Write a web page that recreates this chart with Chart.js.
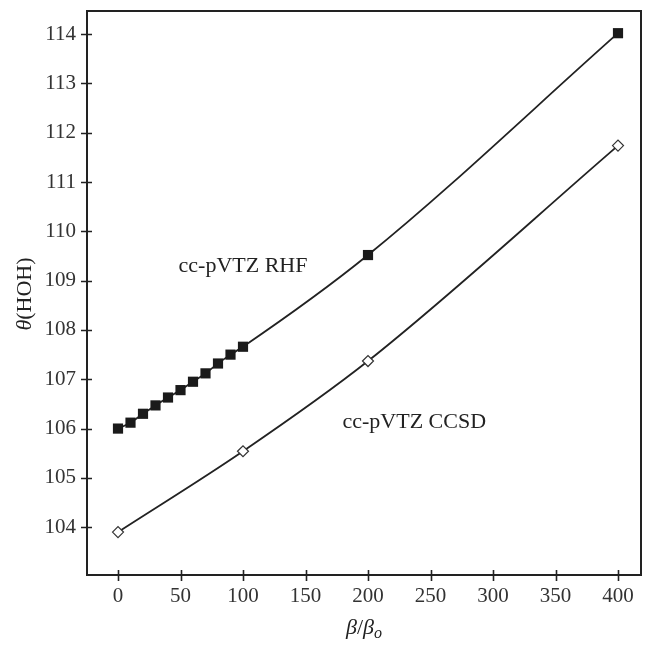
<!DOCTYPE html>
<html>
<head>
<meta charset="utf-8">
<script src="https://cdn.jsdelivr.net/npm/chart.js@4/dist/chart.umd.min.js"></script>
<style>
html,body{margin:0;padding:0;background:#fff;}
#wrap{width:651px;height:645px;}
</style>
</head>
<body>
<div id="wrap"><canvas id="c" width="651" height="645"></canvas></div>
<script>
const xTicks = [0, 50, 100, 150, 200, 250, 300, 350, 400];
const yTicks = [104, 105, 106, 107, 108, 109, 110, 111, 112, 113, 114];
const rhfX = [0, 10, 20, 30, 40, 50, 60, 70, 80, 90, 100, 200, 400];
const rhfY = [106.0, 106.12, 106.30, 106.47, 106.63, 106.78, 106.95, 107.12, 107.32, 107.50, 107.66, 109.52, 114.02];
const ccsdX = [0, 100, 200, 400];
const ccsdY = [103.9, 105.54, 107.37, 111.74];
const seriesLabels = ['cc-pVTZ RHF', 'cc-pVTZ CCSD'];

const INK = '#222222';
const SERIF = '"Liberation Serif", "DejaVu Serif", serif';

const framePlugin = {
  id: 'frame',
  afterDatasetsDraw(chart) {
    const {ctx, chartArea: a, scales: {x, y}} = chart;
    ctx.save();
    ctx.strokeStyle = INK;
    ctx.lineWidth = 2;
    ctx.strokeRect(a.left, a.top, a.right - a.left, a.bottom - a.top);
    ctx.lineWidth = 1.6;
    ctx.beginPath();
    xTicks.forEach(v => {
      const px = Math.round(x.getPixelForValue(v)) + 0.5;
      ctx.moveTo(px, a.bottom - 5);
      ctx.lineTo(px, a.bottom + 6);
    });
    yTicks.forEach(v => {
      const py = Math.round(y.getPixelForValue(v)) + 0.5;
      ctx.moveTo(a.left - 6, py);
      ctx.lineTo(a.left + 5, py);
    });
    ctx.stroke();

    // in-plot series labels (anchored in data space)
    ctx.fillStyle = INK;
    ctx.font = '22px ' + SERIF;
    ctx.textAlign = 'center';
    ctx.textBaseline = 'alphabetic';
    ctx.fillText(seriesLabels[0], x.getPixelForValue(100), y.getPixelForValue(109.17));
    ctx.fillText(seriesLabels[1], x.getPixelForValue(237), y.getPixelForValue(106.01));

    // y-axis title: θ(HOH)
    ctx.save();
    ctx.translate(25, (a.top + a.bottom) / 2 + 1);
    ctx.rotate(-Math.PI / 2);
    ctx.textBaseline = 'middle';
    ctx.textAlign = 'left';
    const F = 22;
    ctx.font = 'italic ' + F + 'px ' + SERIF;
    const w1 = ctx.measureText('θ').width;
    ctx.font = F + 'px ' + SERIF;
    const w2 = ctx.measureText('(HOH)').width;
    const sx = -(w1 + w2) / 2;
    ctx.font = 'italic ' + F + 'px ' + SERIF;
    ctx.fillText('θ', sx, 0);
    ctx.font = F + 'px ' + SERIF;
    ctx.fillText('(HOH)', sx + w1, 0);
    ctx.restore();

    // x-axis title: β/β_o
    ctx.save();
    ctx.textBaseline = 'alphabetic';
    ctx.textAlign = 'left';
    const parts = [
      {t: 'β', f: 'italic 22px ' + SERIF, dy: 0},
      {t: '/', f: '22px ' + SERIF, dy: 0},
      {t: 'β', f: 'italic 22px ' + SERIF, dy: 0},
      {t: 'o', f: 'italic 16px ' + SERIF, dy: 4}
    ];
    let tw = 0;
    parts.forEach(p => { ctx.font = p.f; p.w = ctx.measureText(p.t).width; tw += p.w; });
    let cx = (a.left + a.right) / 2 - tw / 2;
    const base = 634;
    parts.forEach(p => { ctx.font = p.f; ctx.fillText(p.t, cx, base + p.dy); cx += p.w; });
    ctx.restore();
    ctx.restore();
  }
};

const rhfData = rhfX.map((v, i) => ({x: v, y: rhfY[i]}));
const ccsdData = ccsdX.map((v, i) => ({x: v, y: ccsdY[i]}));

new Chart(document.getElementById('c'), {
  type: 'line',
  data: {
    datasets: [
      {
        label: seriesLabels[0],
        data: rhfData,
        borderColor: INK,
        borderWidth: 1.8,
        backgroundColor: '#1a1a1a',
        pointBackgroundColor: '#1a1a1a',
        pointBorderColor: '#1a1a1a',
        pointBorderWidth: 0,
        pointStyle: 'rect',
        pointRadius: 7.2,
        cubicInterpolationMode: 'monotone',
        fill: false
      },
      {
        label: seriesLabels[1],
        data: ccsdData,
        borderColor: INK,
        borderWidth: 1.8,
        pointBackgroundColor: '#ffffff',
        pointBorderColor: '#333333',
        pointBorderWidth: 1.2,
        pointStyle: 'rectRot',
        pointRadius: 5.5,
        cubicInterpolationMode: 'monotone',
        fill: false
      }
    ]
  },
  options: {
    responsive: false,
    animation: false,
    devicePixelRatio: 1,
    layout: {padding: {left: 0, right: 10, top: 11, bottom: 0}},
    plugins: {legend: {display: false}, tooltip: {enabled: false}},
    scales: {
      x: {
        type: 'linear',
        min: -24.8,
        max: 418.4,
        grid: {display: false, drawTicks: false},
        border: {display: false},
        afterFit(s) { s.height = 70; s.paddingLeft = 0; s.paddingRight = 0; },
        afterBuildTicks(s) { s.ticks = xTicks.map(v => ({value: v})); },
        ticks: {
          padding: 9,
          maxRotation: 0,
          autoSkip: false,
          color: '#333333',
          font: {family: SERIF, size: 21}
        }
      },
      y: {
        type: 'linear',
        min: 103.03,
        max: 114.47,
        grid: {display: false, drawTicks: false},
        border: {display: false},
        afterFit(s) { s.width = 87; s.paddingTop = 0; s.paddingBottom = 0; },
        afterBuildTicks(s) { s.ticks = yTicks.map(v => ({value: v})); },
        ticks: {
          padding: 11,
          autoSkip: false,
          color: '#333333',
          font: {family: SERIF, size: 21}
        }
      }
    }
  },
  plugins: [framePlugin]
});
</script>
</body>
</html>
